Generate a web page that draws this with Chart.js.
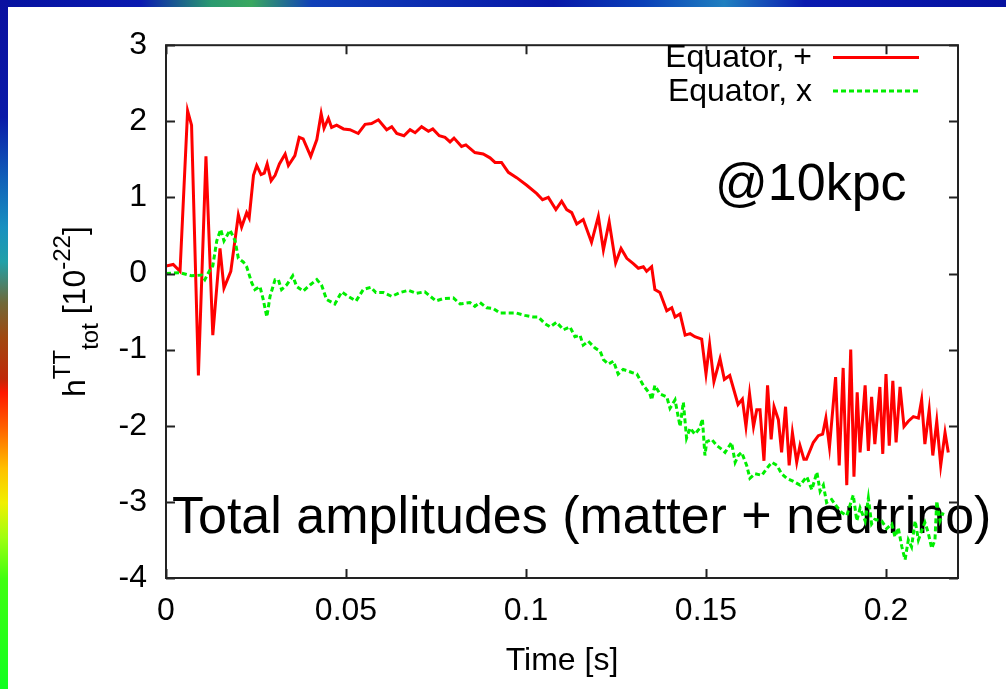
<!DOCTYPE html>
<html>
<head>
<meta charset="utf-8">
<script src="https://cdn.jsdelivr.net/npm/chart.js@4.4.1/dist/chart.umd.min.js"></script>
<style>
html,body{margin:0;padding:0;width:1006px;height:689px;overflow:hidden;background:#0a14a8;}
#topbar{position:absolute;left:0;top:0;width:1006px;height:7px;
 background:linear-gradient(to right,#0612a0 0%,#0a1ab0 14%,#2a9a70 21%,#3aa860 25%,#1040b8 31%,#0818a8 55%,#0a40b8 64%,#2080c0 72%,#0a1ab0 80%,#0612a0 100%);}
#leftbar{position:absolute;left:0;top:0;width:8px;height:689px;
 background:linear-gradient(to bottom,#0a10a0 0%,#0a1aa8 17%,#1060b8 26%,#1890c0 33%,#20a0a8 38%,#706838 44%,#a04810 49%,#c02808 55%,#ff1800 57%,#ff6000 62%,#ffc000 68%,#f0f000 73%,#a0ff10 78%,#40ff10 84%,#10ff20 100%);}
#wrap{position:absolute;left:8px;top:7px;width:998px;height:682px;background:#ffffff;}
canvas{display:block;}
</style>
</head>
<body>
<div id="topbar"></div>
<div id="leftbar"></div>
<div id="wrap"><canvas id="c" width="998" height="682"></canvas></div>
<script>
// ---- data ----
const xTickValues = [0, 0.05, 0.1, 0.15, 0.2];
const xTickLabels = ['0', '0.05', '0.1', '0.15', '0.2'];
const yTickValues = [-4, -3, -2, -1, 0, 1, 2, 3];
const yTickLabels = ['-4', '-3', '-2', '-1', '0', '1', '2', '3'];
const seriesNames = ['Equator, +', 'Equator, x'];

const tPlus = [0,0.002,0.0039,0.006,0.0071,0.009,0.0111,0.013,0.015,0.0161,0.018,0.0201,0.021,0.0224,0.0231,0.0243,0.0252,0.0264,0.0273,0.0281,0.0292,0.0303,0.0315,0.0331,0.034,0.0358,0.037,0.0381,0.0402,0.0419,0.0431,0.0439,0.0451,0.046,0.0474,0.0493,0.0511,0.0534,0.0553,0.0571,0.059,0.0613,0.0627,0.0641,0.0661,0.0678,0.0692,0.071,0.0729,0.0741,0.0759,0.0775,0.0789,0.08,0.0821,0.0833,0.0858,0.0881,0.09,0.0914,0.0932,0.0951,0.0974,0.1002,0.103,0.1046,0.1062,0.1083,0.1099,0.1113,0.1127,0.1141,0.1159,0.1182,0.1201,0.1215,0.1231,0.1249,0.1264,0.128,0.1298,0.1312,0.1326,0.1335,0.1349,0.1358,0.1372,0.1391,0.1405,0.1414,0.1428,0.1442,0.1456,0.1469,0.1488,0.15,0.151,0.1522,0.1539,0.1551,0.1566,0.1589,0.1601,0.1611,0.1621,0.1632,0.1641,0.165,0.1661,0.1671,0.1681,0.1689,0.1701,0.171,0.1721,0.1731,0.174,0.1752,0.1761,0.1772,0.1779,0.1798,0.1812,0.1824,0.1833,0.1843,0.186,0.187,0.1881,0.1891,0.1902,0.1911,0.192,0.1928,0.1942,0.1951,0.196,0.1969,0.1983,0.1991,0.2,0.2009,0.2019,0.2028,0.2039,0.205,0.2062,0.2076,0.209,0.2099,0.2108,0.212,0.213,0.2141,0.2152,0.2164,0.2173];
const hPlus = [0.10,0.12,0.03,2.14,1.95,-1.34,1.54,-0.81,0.33,-0.19,0.03,0.77,0.61,0.80,0.73,1.29,1.42,1.30,1.32,1.44,1.22,1.29,1.44,1.57,1.42,1.55,1.79,1.77,1.54,1.76,2.10,1.91,2.04,1.92,1.95,1.90,1.89,1.84,1.96,1.97,2.02,1.89,1.93,1.84,1.81,1.89,1.85,1.93,1.87,1.90,1.81,1.79,1.73,1.78,1.67,1.69,1.59,1.57,1.52,1.46,1.46,1.33,1.26,1.16,1.05,0.97,1.00,0.84,0.95,0.84,0.80,0.65,0.71,0.41,0.75,0.31,0.68,0.14,0.33,0.20,0.13,0.07,0.09,0.03,0.09,-0.21,-0.25,-0.49,-0.45,-0.57,-0.53,-0.81,-0.79,-0.83,-0.86,-1.32,-0.93,-1.42,-1.12,-1.39,-1.34,-1.72,-1.65,-2.01,-1.58,-2.01,-1.79,-1.79,-2.46,-1.47,-2.18,-1.75,-1.92,-2.35,-1.75,-2.52,-2.09,-2.48,-2.26,-2.44,-2.44,-2.22,-2.13,-2.11,-1.90,-2.28,-1.36,-2.52,-1.24,-2.78,-1.00,-2.67,-1.56,-2.35,-1.47,-2.33,-1.62,-2.24,-1.49,-2.37,-1.32,-2.26,-1.41,-2.22,-1.49,-2.01,-1.94,-1.88,-1.90,-1.66,-2.24,-1.79,-2.39,-1.94,-2.52,-2.09,-2.35];

const tCross = [0,0.0039,0.0071,0.0099,0.0108,0.012,0.013,0.0141,0.0152,0.0161,0.0178,0.0192,0.0201,0.0215,0.0224,0.0238,0.0247,0.0261,0.027,0.028,0.0289,0.0303,0.0312,0.0321,0.0335,0.0352,0.0363,0.0381,0.04,0.0419,0.0432,0.0446,0.0469,0.0488,0.0506,0.0528,0.0548,0.0569,0.0583,0.0604,0.0627,0.065,0.0673,0.0696,0.0719,0.075,0.077,0.0798,0.0817,0.0844,0.0858,0.0872,0.0891,0.0909,0.0928,0.0956,0.0974,0.0997,0.102,0.1034,0.1053,0.1067,0.1085,0.1104,0.1122,0.1136,0.115,0.1159,0.1173,0.1192,0.1206,0.1215,0.1229,0.1243,0.1256,0.127,0.1294,0.1308,0.1326,0.1344,0.1349,0.1358,0.1372,0.1391,0.14,0.1414,0.1428,0.1437,0.1446,0.1456,0.1469,0.1483,0.149,0.1497,0.1502,0.1516,0.153,0.1544,0.1553,0.1571,0.1581,0.159,0.1599,0.1613,0.1622,0.1636,0.1655,0.1669,0.1683,0.1697,0.171,0.1724,0.1743,0.1761,0.178,0.1794,0.1808,0.1817,0.1826,0.1835,0.1849,0.1863,0.1877,0.1891,0.1909,0.1919,0.1928,0.1942,0.1951,0.196,0.1969,0.1988,0.2002,0.2016,0.2025,0.2034,0.2044,0.2053,0.2062,0.2071,0.2081,0.209,0.2099,0.2108,0.2117,0.2127,0.2136,0.2141,0.215,0.2159];
const hCross = [0.00,0.01,-0.03,-0.02,-0.08,0.03,0.10,0.43,0.58,0.43,0.57,0.43,0.20,0.15,0.09,-0.12,-0.21,-0.17,-0.34,-0.57,-0.30,-0.08,-0.08,-0.21,-0.15,-0.03,-0.17,-0.23,-0.15,-0.08,-0.15,-0.34,-0.40,-0.24,-0.30,-0.36,-0.21,-0.18,-0.25,-0.25,-0.30,-0.25,-0.22,-0.26,-0.24,-0.36,-0.33,-0.32,-0.40,-0.38,-0.43,-0.38,-0.45,-0.46,-0.52,-0.52,-0.52,-0.55,-0.57,-0.57,-0.66,-0.70,-0.64,-0.74,-0.70,-0.83,-0.81,-0.94,-0.89,-0.98,-1.02,-1.13,-1.19,-1.15,-1.32,-1.26,-1.30,-1.32,-1.47,-1.58,-1.66,-1.47,-1.58,-1.62,-1.77,-1.66,-2.01,-1.69,-2.16,-2.03,-2.11,-2.03,-1.91,-2.39,-2.21,-2.18,-2.26,-2.31,-2.35,-2.22,-2.48,-2.39,-2.35,-2.52,-2.69,-2.63,-2.65,-2.56,-2.48,-2.52,-2.63,-2.69,-2.73,-2.78,-2.67,-2.84,-2.61,-2.86,-2.78,-3.01,-2.97,-3.06,-3.14,-3.18,-2.91,-3.25,-3.08,-3.25,-2.95,-3.29,-3.23,-3.25,-3.35,-3.29,-3.46,-3.34,-3.59,-3.76,-3.50,-3.59,-3.25,-3.50,-3.38,-3.27,-3.40,-3.61,-3.50,-2.99,-3.25,-3.14];

const FONT = '"Liberation Sans", Arial, Helvetica, sans-serif';

const decor = {
  id: 'decor',
  beforeDatasetsDraw(chart) {
    const ctx = chart.ctx;
    ctx.save();
    ctx.fillStyle = '#000';
    ctx.textAlign = 'left';
    ctx.textBaseline = 'alphabetic';
    ctx.font = '52px ' + FONT;
    ctx.fillText('@10kpc', 707, 193);
    ctx.fillText('Total amplitudes (matter + neutrino)', 164, 526);
    ctx.restore();
  },
  afterDatasetsDraw(chart) {
    const ctx = chart.ctx;
    const a = chart.chartArea;
    const xs = chart.scales.x, ys = chart.scales.y;
    ctx.save();
    ctx.strokeStyle = '#222';
    ctx.lineWidth = 2;
    ctx.setLineDash([]);
    ctx.strokeRect(a.left, a.top, a.right - a.left, a.bottom - a.top);
    const tl = 9;
    ctx.beginPath();
    xTickValues.forEach(v => {
      const px = Math.round(xs.getPixelForValue(v)) + 0.5;
      ctx.moveTo(px, a.bottom); ctx.lineTo(px, a.bottom - tl);
      ctx.moveTo(px, a.top); ctx.lineTo(px, a.top + tl);
    });
    yTickValues.forEach(v => {
      const py = Math.round(ys.getPixelForValue(v)) + 0.5;
      ctx.moveTo(a.left, py); ctx.lineTo(a.left + tl, py);
      ctx.moveTo(a.right, py); ctx.lineTo(a.right - tl, py);
    });
    ctx.stroke();
    // key
    ctx.font = '32px ' + FONT;
    ctx.fillStyle = '#000';
    ctx.textAlign = 'right';
    ctx.textBaseline = 'middle';
    chart.data.datasets.forEach((ds, i) => {
      const y = 50.5 + i * 33.5;
      ctx.fillText(ds.label, 804, y + 1);
      ctx.strokeStyle = ds.borderColor;
      ctx.lineWidth = 3;
      ctx.setLineDash(ds.borderDash || []);
      ctx.beginPath();
      ctx.moveTo(825, y); ctx.lineTo(911, y);
      ctx.stroke();
    });
    ctx.restore();
  },
  afterDraw(chart) {
    const ctx = chart.ctx;
    const a = chart.chartArea;
    const parts = [
      {t: 'h', s: 32, dy: 0},
      {t: 'TT', s: 24, dy: -15},
      {t: 'tot', s: 24, dy: 13},
      {t: ' [10', s: 32, dy: 0},
      {t: '-22', s: 24, dy: -15},
      {t: ']', s: 32, dy: 0}
    ];
    ctx.save();
    let total = 0;
    parts.forEach(p => { ctx.font = p.s + 'px ' + FONT; p.w = ctx.measureText(p.t).width; total += p.w; });
    ctx.translate(77, (a.top + a.bottom) / 2);
    ctx.rotate(-Math.PI / 2);
    ctx.fillStyle = '#000';
    ctx.textAlign = 'left';
    ctx.textBaseline = 'alphabetic';
    let x = -total / 2;
    parts.forEach(p => {
      ctx.font = p.s + 'px ' + FONT;
      ctx.fillText(p.t, x, p.dy);
      x += p.w;
    });
    ctx.restore();
  }
};

new Chart(document.getElementById('c'), {
  type: 'line',
  data: {
    datasets: [
      {
        label: seriesNames[0],
        data: tPlus.map((t, i) => ({x: t, y: hPlus[i]})),
        borderColor: '#ff0000',
        borderWidth: 3,
        pointRadius: 0,
        tension: 0,
        fill: false,
        order: 2
      },
      {
        label: seriesNames[1],
        data: tCross.map((t, i) => ({x: t, y: hCross[i]})),
        borderColor: '#00ee00',
        borderWidth: 3,
        borderDash: [5, 3],
        pointRadius: 0,
        tension: 0,
        fill: false,
        order: 1
      }
    ]
  },
  options: {
    responsive: false,
    animation: false,
    devicePixelRatio: 1,
    layout: {padding: {left: 0, top: 26, right: 48, bottom: 0}},
    plugins: {legend: {display: false}, tooltip: {enabled: false}},
    scales: {
      x: {
        type: 'linear',
        min: 0,
        max: 0.22,
        afterBuildTicks: s => { s.ticks = xTickValues.map(v => ({value: v})); },
        afterFit: s => { s.height = 111; },
        grid: {display: false, drawTicks: false},
        border: {display: false},
        ticks: {
          callback: (v, i) => xTickLabels[i],
          font: {family: FONT, size: 32},
          color: '#000',
          padding: 14,
          maxRotation: 0,
          autoSkip: false
        },
        title: {
          display: true,
          text: 'Time [s]',
          font: {family: FONT, size: 32},
          color: '#000',
          padding: {top: 0, bottom: 9}
        }
      },
      y: {
        type: 'linear',
        min: -4,
        max: 3,
        afterBuildTicks: s => { s.ticks = yTickValues.map(v => ({value: v})); },
        afterFit: s => { s.width = 158; },
        grid: {display: false, drawTicks: false},
        border: {display: false},
        ticks: {
          callback: (v, i) => yTickLabels[i],
          font: {family: FONT, size: 32},
          color: '#000',
          padding: 19,
          autoSkip: false
        }
      }
    }
  },
  plugins: [decor]
});
</script>
</body>
</html>
